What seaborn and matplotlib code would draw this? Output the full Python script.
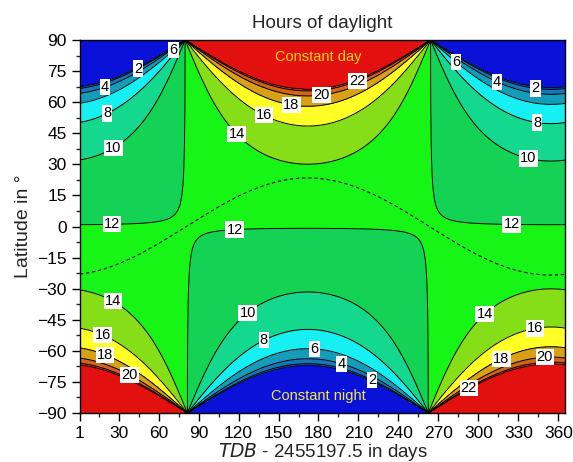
import numpy as np
import matplotlib
matplotlib.use("Agg")
import matplotlib.pyplot as plt
import seaborn as sns

# --- Model parameters ---
obliquity = 23.44        # max declination, deg (peak of dashed curve)
solstice_day = 172       # day of max declination
horizon_alt = -0.35      # sunrise altitude, deg

# --- Contour bins: constant night, 0..24 h in 2 h steps, constant day ---
levels = [-1, 0.001, 2, 4, 6, 8, 10, 12, 14, 16, 18, 20, 22, 23.999, 25]
band_colors = ["#0A12DA", "#1450C4", "#1478B8", "#149CBA", "#16F0F2",
               "#14D88E", "#14D254", "#16F516", "#86DE18", "#FFFF26",
               "#D8A016", "#D26414", "#C24A12", "#E2100F"]

# label positions (day, latitude) per contour level
label_pos = {
    2: [(43, 78), (220, -74), (343, 67)],
    4: [(20, 67), (197, -67), (314, 70)],
    6: [(70, 86), (177, -59), (284, 80)],
    8: [(21, 55), (136, -51), (344, 50)],
    10: [(26, 38), (121, -37), (338, 34)],
    12: [(25, 0), (117, -1), (325, 0)],
    14: [(23, -39), (119, 45), (307, -44)],
    16: [(17, -54), (140, 55), (343, -51)],
    18: [(19, -63), (160, 60), (318, -65)],
    20: [(38, -72), (182, 64), (350, -64)],
    22: [(209, 71), (293, -78)],
}

xticks = [1, 30, 60, 90, 120, 150, 180, 210, 240, 270, 300, 330, 360]
yticks = list(range(-90, 91, 15))

# --- Grid ---
days = np.linspace(1, 365, 730)
lats = np.linspace(-90, 90, 721)
D, L = np.meshgrid(days, lats)
decl_days = obliquity * np.cos(2 * np.pi * (days - solstice_day) / 365.0)
decl = obliquity * np.cos(2 * np.pi * (D - solstice_day) / 365.0)

phi = np.radians(L)
dr = np.radians(decl)
with np.errstate(divide="ignore", invalid="ignore"):
    cosH = (np.sin(np.radians(horizon_alt)) - np.sin(phi) * np.sin(dr)) / (np.cos(phi) * np.cos(dr))
cosH = np.nan_to_num(cosH, nan=0.0, posinf=2.0, neginf=-2.0)
cosH = np.clip(cosH, -1, 1)
hours = 2 * np.degrees(np.arccos(cosH)) / 15.0

# --- Plot ---
sns.set_style("ticks")
plt.rcParams["font.family"] = ["Liberation Sans", "DejaVu Sans"]

fig = plt.figure(figsize=(5.73, 4.62), dpi=100)
ax = fig.add_axes([0.1396, 0.106, 0.8464, 0.8074])

ax.contourf(D, L, hours, levels=levels, colors=band_colors)
ax.contour(D, L, hours, levels=[0.001, 23.999], colors="black", linewidths=0.6)
for lev, pos in label_pos.items():
    cs = ax.contour(D, L, hours, levels=[lev], colors="black", linewidths=0.7)
    texts = ax.clabel(cs, fmt="%d", fontsize=10.5, inline=False, manual=pos)
    for t in texts:
        t.set_rotation(0)
        t.set_bbox(dict(facecolor="white", edgecolor="none", pad=0.8))

sns.lineplot(x=days, y=decl_days, ax=ax, color="black", linestyle=(0, (3, 2.5)), linewidth=0.8)

ax.text(180, 82, "Constant day", color="#FFD21A", fontsize=10.5, ha="center", va="center")
ax.text(180, -82, "Constant night", color="#F2E84A", fontsize=10.5, ha="center", va="center")

ax.set_xlim(1, 365)
ax.set_ylim(-90, 90)
ax.set_xticks(xticks)
ax.set_yticks(yticks)
ax.set_xticks(np.arange(15, 365, 30), minor=True)
ax.set_yticks(np.arange(-82.5, 90, 15), minor=True)
ax.tick_params(axis="both", which="major", direction="out", length=6, width=1, labelsize=12.5, colors="black")
ax.tick_params(axis="both", which="minor", direction="out", length=3, width=1)
for s in ax.spines.values():
    s.set_linewidth(1)
    s.set_color("black")

ax.set_title("Hours of daylight", fontsize=13.5, pad=9)
ax.set_xlabel("$\\it{TDB}$ - 2455197.5 in days", fontsize=13.5, labelpad=0)
ax.set_ylabel("Latitude in °", fontsize=14, labelpad=4)

fig.savefig("out.png", dpi=100)
